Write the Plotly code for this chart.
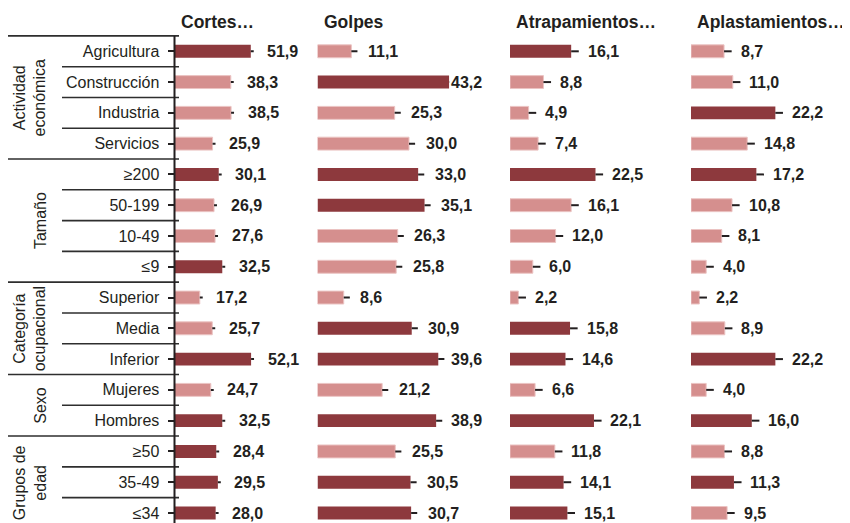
''' Accidentes por tipo y características '''
import plotly.graph_objects as go

rows = ['Agricultura', 'Construcción', 'Industria', 'Servicios',
        '≥200', '50-199', '10-49', '≤9',
        'Superior', 'Media', 'Inferior',
        'Mujeres', 'Hombres',
        '≥50', '35-49', '≤34']
groups = ['Actividad<br>económica', 'Tamaño', 'Categoría<br>ocupacional', 'Sexo', 'Grupos de<br>edad']
group_sizes = [4, 4, 3, 2, 3]

cortes = [51.9, 38.3, 38.5, 25.9, 30.1, 26.9, 27.6, 32.5, 17.2, 25.7, 52.1, 24.7, 32.5, 28.4, 29.5, 28.0]
cortes_dark = [1, 0, 0, 0, 1, 0, 0, 1, 0, 0, 1, 0, 1, 1, 1, 1]
golpes = [11.1, 43.2, 25.3, 30.0, 33.0, 35.1, 26.3, 25.8, 8.6, 30.9, 39.6, 21.2, 38.9, 25.5, 30.5, 30.7]
golpes_dark = [0, 1, 0, 0, 1, 1, 0, 0, 0, 1, 1, 0, 1, 0, 1, 1]
atrap = [16.1, 8.8, 4.9, 7.4, 22.5, 16.1, 12.0, 6.0, 2.2, 15.8, 14.6, 6.6, 22.1, 11.8, 14.1, 15.1]
atrap_dark = [1, 0, 0, 0, 1, 0, 0, 0, 0, 1, 1, 0, 1, 0, 1, 1]
aplast = [8.7, 11.0, 22.2, 14.8, 17.2, 10.8, 8.1, 4.0, 2.2, 8.9, 22.2, 4.0, 16.0, 8.8, 11.3, 9.5]
aplast_dark = [0, 0, 1, 0, 1, 0, 0, 0, 0, 0, 1, 0, 1, 0, 1, 0]

# page body has an 8px margin, so the figure is 8px smaller than the window
PAD = 8
W, H = 850 - PAD, 523 - PAD
DARK = '#8D393D'
LIGHT = '#D58F8E'
LIGHT_EDGE = '#EBC4C3'
INK = '#231F20'
FONT = 'Arial, Liberation Sans, sans-serif'

def px(x):
    ''' screen x pixel -> paper fraction '''
    return (x - PAD) / W

# panel: title, values, flags, left px, px per unit, axis max
panels = [
    ('Cortes…', cortes, cortes_dark, 174.5, 1.47, 65),
    ('Golpes', golpes, golpes_dark, 317.5, 3.05, 43.2),
    ('Atrapamientos…', atrap, atrap_dark, 510, 3.8, 30),
    ('Aplastamientos…', aplast, aplast_dark, 691, 3.8, 30),
]

# row i sits at screen pixel 51.3 + 30.78 * i
row0, step = 51.3 - PAD, 30.78
y_range = [(H - row0) / step, -row0 / step]
idx = list(range(len(rows)))

fig = go.Figure()
annotations = []
layout_axes = {}

for k, (title, vals, dark, x0, ppu, xmax) in enumerate(panels):
    ax = 'x' if k == 0 else f'x{k + 1}'
    name = 'xaxis' if k == 0 else f'xaxis{k + 1}'
    fig.add_trace(
        go.Bar(
            x = vals,
            y = idx,
            orientation = 'h',
            width = 0.42,
            xaxis = ax,
            yaxis = 'y',
            marker = dict(
                color = [DARK if d else LIGHT for d in dark],
                line = dict(color = [DARK if d else LIGHT_EDGE for d in dark],
                            width = [0 if d else 1 for d in dark])
            ),
            error_x = dict(type = 'constant', value = 2, valueminus = 0, symmetric = False,
                           width = 0, thickness = 2, color = INK),
            hoverinfo = 'x+y',
            showlegend = False
        )
    )
    layout_axes[name] = dict(
        domain = [px(x0), px(x0 + ppu * xmax)],
        range = [0, xmax],
        anchor = 'y',
        visible = False
    )
    # value labels
    off = 14.5 / ppu
    for i, v in enumerate(vals):
        annotations.append(dict(
            x = min(v + off, xmax), y = i, xref = ax, yref = 'y',
            text = f'{v:.1f}'.replace('.', ','),
            showarrow = False, xanchor = 'left', yanchor = 'middle',
            font = dict(family = FONT, size = 16, color = INK, weight = 'bold')
        ))
    # panel title
    annotations.append(dict(
        x = px(x0 + 4), y = 1 - (22 - PAD) / H, xref = 'paper', yref = 'paper',
        text = f'<b>{title}</b>', showarrow = False,
        xanchor = 'left', yanchor = 'middle',
        font = dict(family = FONT, size = 17.5, color = INK)
    ))

# group labels and separators
shapes = []
line_col = '#2E2E2E'
shapes.append(dict(type = 'line', xref = 'paper', yref = 'y',
                   x0 = px(7), x1 = px(179), y0 = -0.5, y1 = -0.5,
                   line = dict(color = line_col, width = 1.6)))
start = 0
for g, n in zip(groups, group_sizes):
    for j in range(start, start + n - 1):
        shapes.append(dict(type = 'line', xref = 'paper', yref = 'y',
                           x0 = px(62), x1 = px(179), y0 = j + 0.5, y1 = j + 0.5,
                           line = dict(color = line_col, width = 1.6)))
    end = start + n - 1
    if end < len(rows) - 1:
        shapes.append(dict(type = 'line', xref = 'paper', yref = 'y',
                           x0 = px(7), x1 = px(179), y0 = end + 0.5, y1 = end + 0.5,
                           line = dict(color = line_col, width = 1.6)))
    annotations.append(dict(
        x = px(51), y = (start + end) / 2, xref = 'paper', yref = 'y',
        text = g, textangle = -90, showarrow = False,
        xanchor = 'right', yanchor = 'middle',
        font = dict(family = FONT, size = 16, color = INK)
    ))
    start += n

# vertical axis line
shapes.append(dict(type = 'line', xref = 'paper', yref = 'y',
                   x0 = px(174.5), x1 = px(174.5), y0 = -0.5, y1 = y_range[0],
                   line = dict(color = INK, width = 2)))

fig.update_layout(
    width = W,
    height = H,
    margin = dict(l = 0, r = 0, t = 0, b = 0),
    plot_bgcolor = 'white',
    paper_bgcolor = 'white',
    barmode = 'overlay',
    yaxis = dict(
        domain = [0, 1],
        range = y_range,
        anchor = 'x',
        tickvals = idx,
        ticktext = rows,
        ticks = 'outside',
        ticklen = 6,
        tickwidth = 2,
        tickcolor = INK,
        ticklabelstandoff = 5,
        showgrid = False,
        zeroline = False,
        showline = False,
        automargin = False,
        tickfont = dict(family = FONT, size = 16, color = INK)
    ),
    shapes = shapes,
    annotations = annotations,
    **layout_axes
)

fig.write_html('out.html')
